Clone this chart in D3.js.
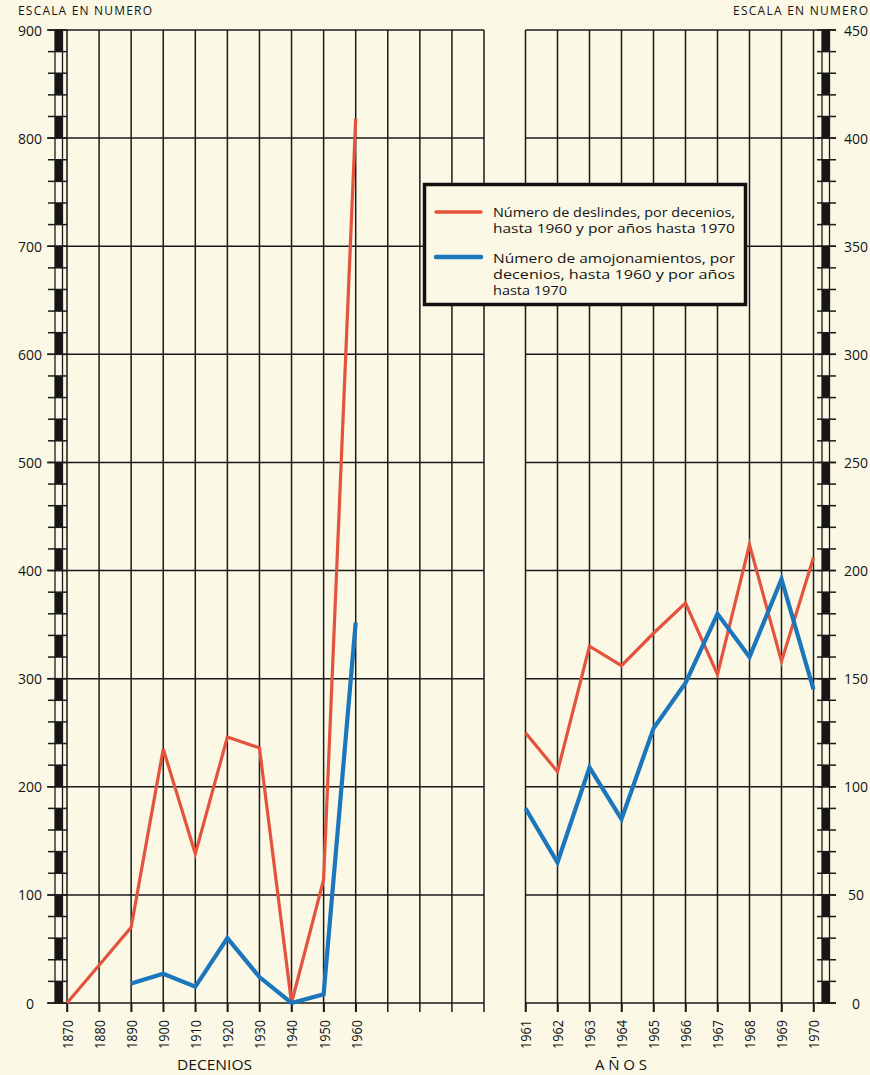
<!DOCTYPE html>
<html><head><meta charset="utf-8">
<script src="https://cdn.jsdelivr.net/npm/d3@7"></script>
<style>
body{margin:0;background:#fbf8e6;}
svg{display:block;}
text{font-family:"Open Sans",Lato,sans-serif;fill:#141414;}
</style></head><body>
<svg id="chart" width="870" height="1075"></svg>
<script>
// ---- data ----
const decades = [1870,1880,1890,1900,1910,1920,1930,1940,1950,1960];
const decadeGrid = [1870,1880,1890,1900,1910,1920,1930,1940,1950,1960,1970,1980,1990,2000];
const deslindesDecenios = [0,35,70,235,138,246,236,0,114,818];
const amojonDecenios = [null,null,18,27,15,60,24,0,8,352];
const years = [1961,1962,1963,1964,1965,1966,1967,1968,1969,1970];
const deslindesAnios = [125,107,165,156,171,185,152,212,158,206];
const amojonAnios = [90,65,109,85,127,148,180,160,196,145];
const leftTicks = [0,100,200,300,400,500,600,700,800,900];
const rightTicks = [0,50,100,150,200,250,300,350,400,450];
const legendLines1 = ["Número de deslindes, por decenios,","hasta 1960 y por años hasta 1970"];
const legendLines2 = ["Número de amojonamientos, por","decenios, hasta 1960 y por años","hasta 1970"];

const RED = "#e4533c", BLUE = "#1b76bc", INK = "#1a1a1a";
const svg = d3.select("#chart");

const yL = d3.scaleLinear().domain([0,900]).range([1003,30]);
const yR = d3.scaleLinear().domain([0,450]).range([1003,30]);
const xL = d3.scaleLinear().domain([1870,2000]).range([67,484]);
const xR = d3.scaleLinear().domain([1961,1970]).range([525.5,813.5]);

const grid = svg.append("g").attr("stroke",INK).attr("stroke-width",1.5);
grid.selectAll(".vl").data(decadeGrid).join("line")
  .attr("x1",d=>xL(d)).attr("x2",d=>xL(d)).attr("y1",yL(900)).attr("y2",yL(0)+9);
grid.selectAll(".vr").data(years).join("line")
  .attr("x1",d=>xR(d)).attr("x2",d=>xR(d)).attr("y1",yR(450)).attr("y2",yR(0)+9);
grid.selectAll(".hl").data(leftTicks).join("line")
  .attr("x1",47).attr("x2",xL(2000)).attr("y1",d=>yL(d)).attr("y2",d=>yL(d));
grid.selectAll(".hr").data(rightTicks).join("line")
  .attr("x1",xR(1961)).attr("x2",836).attr("y1",d=>yR(d)).attr("y2",d=>yR(d));

function ladder(x, w, scale, step, max, tx1, tx2){
  const g = svg.append("g");
  const segs = d3.range(0, max, step);
  g.selectAll("rect.seg").data(segs).join("rect")
    .attr("x",x).attr("width",w)
    .attr("y",d=>scale(d+step)).attr("height",d=>scale(d)-scale(d+step))
    .attr("fill",d=>(Math.round(d/step)%2===0)?"#161616":"none");
  g.append("rect").attr("x",x).attr("width",w).attr("y",scale(max)).attr("height",scale(0)-scale(max))
    .attr("fill","none").attr("stroke",INK).attr("stroke-width",1.3);
  g.selectAll("line").data(d3.range(0,max+step/2,step)).join("line")
    .attr("x1",tx1).attr("x2",tx2).attr("y1",d=>scale(d)).attr("y2",d=>scale(d))
    .attr("stroke",INK).attr("stroke-width",1.5);
}
ladder(55,7.5,yL,20,900,48,67);
ladder(822,7.5,yR,10,450,817,836);

const axL = svg.append("g").attr("transform","translate(30,0)")
  .call(d3.axisLeft(yL).tickValues(leftTicks).tickSize(0).tickPadding(0));
axL.select(".domain").remove();
axL.selectAll("text").attr("text-anchor","middle").attr("x",0).attr("dy","0.36em")
  .style("font-size","14px").style("font-family","'Open Sans'");
const axR = svg.append("g").attr("transform","translate(856,0)")
  .call(d3.axisRight(yR).tickValues(rightTicks).tickSize(0).tickPadding(0));
axR.select(".domain").remove();
axR.selectAll("text").attr("text-anchor","middle").attr("x",0).attr("dy","0.36em")
  .style("font-size","14px").style("font-family","'Open Sans'");

function styleX(g){
  g.select(".domain").remove();
  g.selectAll(".tick line").attr("stroke",INK).attr("stroke-width",1.5);
  g.selectAll("text").attr("transform","rotate(-90)").attr("x",-17).attr("y",0).attr("dy","0.36em")
    .attr("text-anchor","end").style("font-size","15px").style("font-family","'Open Sans'")
    .attr("textLength",29).attr("lengthAdjust","spacingAndGlyphs");
}
svg.append("g").attr("transform",`translate(0,${yL(0)})`)
  .call(d3.axisBottom(xL).tickValues(decades).tickFormat(d3.format("d")).tickSize(9)).call(styleX);
svg.append("g").attr("transform",`translate(0,${yR(0)})`)
  .call(d3.axisBottom(xR).tickValues(years).tickFormat(d3.format("d")).tickSize(9)).call(styleX);

svg.append("text").attr("x",18).attr("y",15).text("ESCALA EN NUMERO")
  .style("font-size","12px").attr("textLength",134).attr("lengthAdjust","spacing");
svg.append("text").attr("x",733).attr("y",15).text("ESCALA EN NUMERO")
  .style("font-size","12px").attr("textLength",135).attr("lengthAdjust","spacing");
svg.append("text").attr("x",177).attr("y",1070).text("DECENIOS")
  .style("font-size","15px").attr("textLength",75).attr("lengthAdjust","spacingAndGlyphs");
svg.append("text").attr("x",595).attr("y",1070).text("AÑOS")
  .style("font-size","15px").attr("textLength",52).attr("lengthAdjust","spacing");

const lg = svg.append("g");
lg.append("rect").attr("x",424.5).attr("y",184.5).attr("width",321).attr("height",120)
  .attr("fill","#fbf8e6").attr("stroke","#111").attr("stroke-width",3.5);
lg.append("line").attr("x1",436).attr("x2",481).attr("y1",212).attr("y2",212)
  .attr("stroke",RED).attr("stroke-width",3.5).attr("stroke-linecap","round");
lg.append("line").attr("x1",436).attr("x2",481).attr("y1",257).attr("y2",257)
  .attr("stroke",BLUE).attr("stroke-width",4.5).attr("stroke-linecap","round");
const lgText = [
  {t:legendLines1[0], y:217, w:242},
  {t:legendLines1[1], y:233, w:242},
  {t:legendLines2[0], y:263, w:242},
  {t:legendLines2[1], y:279, w:242},
  {t:legendLines2[2], y:295, w:74}
];
lg.selectAll("text.lt").data(lgText).join("text")
  .attr("x",493).attr("y",d=>d.y).text(d=>d.t)
  .style("font-size","13.5px").attr("textLength",d=>d.w).attr("lengthAdjust","spacingAndGlyphs");

const lineL = d3.line().defined(d=>d[1]!=null).x(d=>xL(d[0])).y(d=>yL(d[1]));
const lineR = d3.line().x(d=>xR(d[0])).y(d=>yR(d[1]));
svg.append("path").datum(decades.map((d,i)=>[d,deslindesDecenios[i]])).attr("d",lineL)
  .attr("fill","none").attr("stroke",RED).attr("stroke-width",3.2);
svg.append("path").datum(decades.map((d,i)=>[d,amojonDecenios[i]])).attr("d",lineL)
  .attr("fill","none").attr("stroke",BLUE).attr("stroke-width",4.2);
svg.append("path").datum(years.map((d,i)=>[d,deslindesAnios[i]])).attr("d",lineR)
  .attr("fill","none").attr("stroke",RED).attr("stroke-width",3.2);
svg.append("path").datum(years.map((d,i)=>[d,amojonAnios[i]])).attr("d",lineR)
  .attr("fill","none").attr("stroke",BLUE).attr("stroke-width",4.2);
</script>
</body></html>
